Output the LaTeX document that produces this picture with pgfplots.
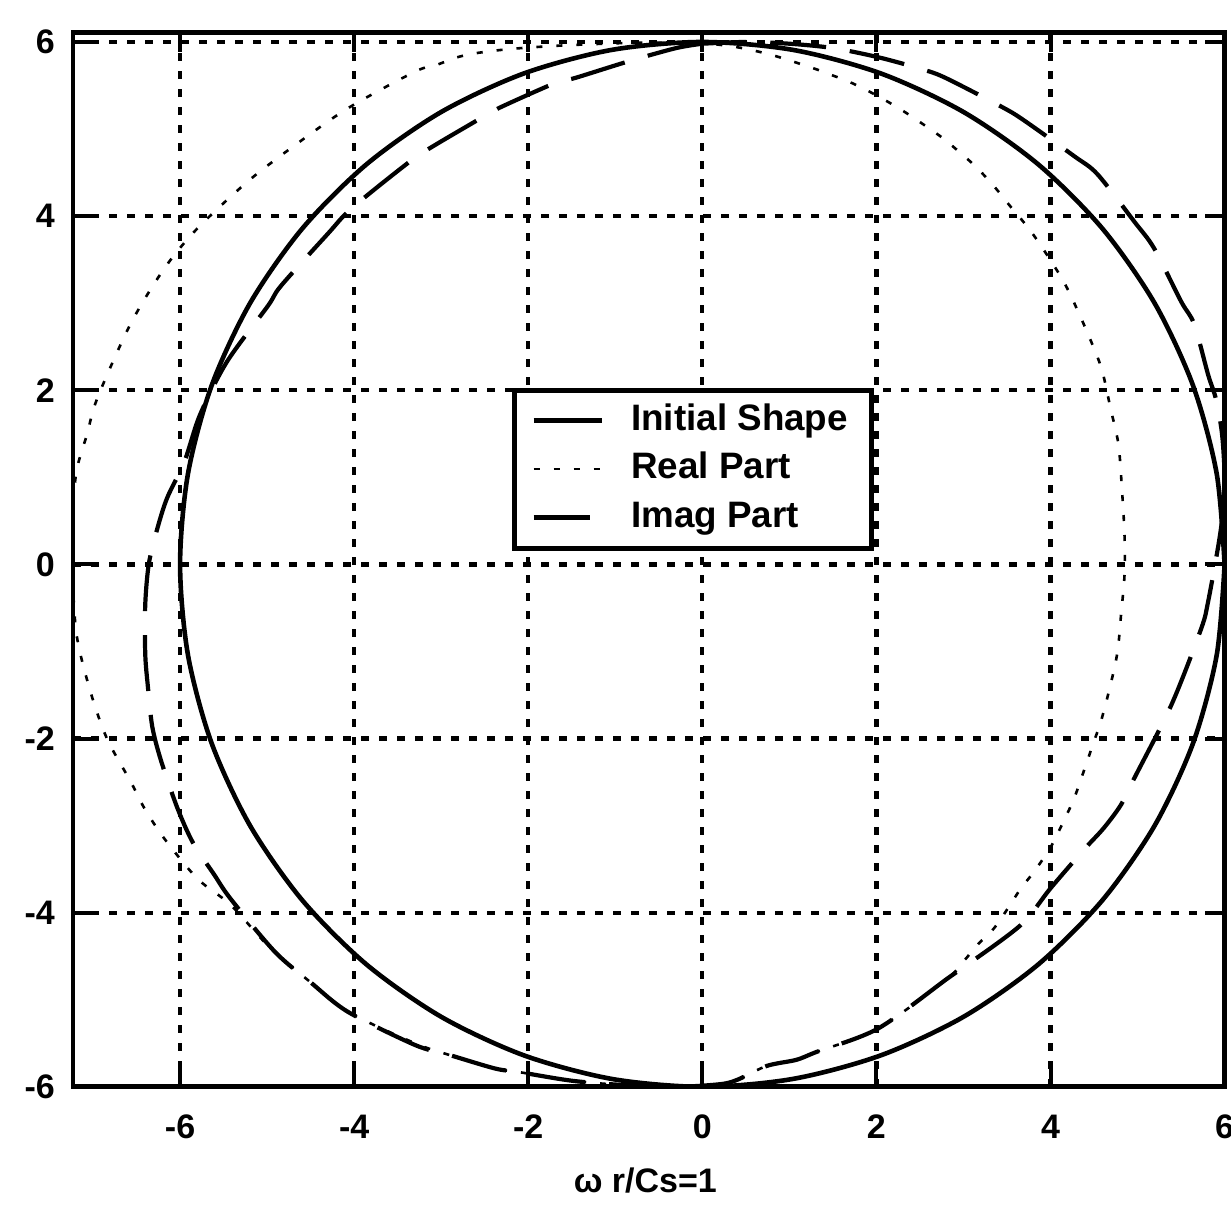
\documentclass[border=0pt]{standalone}
\usepackage{fontspec}
\setmainfont{Liberation Sans}
\usepackage{pgfplots}
\pgfplotsset{compat=1.18}

\begin{document}
\begin{tikzpicture}
\begin{axis}[
  scale only axis,
  width=287.9pt, height=263.6pt,
  xmin=-7.23, xmax=6, ymin=-6, ymax=6.11,
  xtick={-6,-4,...,6}, ytick={-6,-4,...,6},
  tick align=inside, major tick length=5pt,
  tick style={black, line width=1pt},
  axis line style={line width=1.2pt},
  grid=major,
  major grid style={black, line width=1.05pt, dash pattern=on 2pt off 2.5pt},
  /pgf/number format/assume math mode=true,
  ticklabel style={font=\fontsize{8.5}{10}\selectfont\bfseries},
  xticklabel style={yshift=-3.5pt},
  yticklabel style={xshift=-1pt},
  xlabel={ω r/Cs=1},
  xlabel style={at={(axis description cs:0.497,0)}, anchor=center, yshift=-23.5pt,
    font=\fontsize{8.5}{10}\selectfont\bfseries},
  legend style={at={(0.381,0.663)}, anchor=north west,
    draw=black, line width=1.2pt,
    inner xsep=4.3pt, inner ysep=1.6pt, row sep=0pt,
    font=\fontsize{9.2}{11}\selectfont\bfseries,
    nodes={inner sep=1.5pt, text height=7pt, text depth=2.1pt},
    /tikz/every odd column/.append style={column sep=5.3pt}},
  legend cell align=left,
  legend image code/.code={\draw[#1] (0pt,0pt) -- (17pt,0pt);},
]

% initial shape: circle of radius 6
\addplot[black, line width=1.15pt, smooth] coordinates {
 (6.000,0.000) (5.909,1.042) (5.638,2.052) (5.196,3.000) (4.596,3.857)
 (3.857,4.596) (3.000,5.196) (2.052,5.638) (1.042,5.909) (0.000,6.000)
 (-1.042,5.909) (-2.052,5.638) (-3.000,5.196) (-3.857,4.596) (-4.596,3.857)
 (-5.196,3.000) (-5.638,2.052) (-5.909,1.042) (-6.000,0.000)
 (-5.909,-1.042) (-5.638,-2.052) (-5.196,-3.000) (-4.596,-3.857)
 (-3.857,-4.596) (-3.000,-5.196) (-2.052,-5.638) (-1.042,-5.909) (0.000,-6.000)
 (1.042,-5.909) (2.052,-5.638) (3.000,-5.196) (3.857,-4.596) (4.596,-3.857)
 (5.196,-3.000) (5.638,-2.052) (5.909,-1.042) (6.000,0.000)
};
\addlegendentry{Initial Shape\hspace{2pt}}

% real part of the deformed shape
\addplot[black, line width=0.65pt, dash pattern=on 1.5pt off 3.5pt, smooth] coordinates {
 (0.00,5.99) (-0.80,5.99) (-1.60,5.96) (-2.20,5.92) (-2.61,5.87) (-2.83,5.82)
 (-3.07,5.73) (-3.30,5.66) (-4.07,5.24) (-4.70,4.80) (-5.22,4.40) (-5.80,3.86)
 (-6.18,3.40) (-6.57,2.76) (-6.95,1.91) (-7.07,1.49) (-7.19,1.07) (-7.24,0.50)
 (-7.24,0.00) (-7.19,-0.80) (-7.03,-1.46) (-6.84,-2.00) (-6.57,-2.49) (-6.41,-2.80)
 (-6.18,-3.15) (-5.80,-3.61) (-5.42,-3.91) (-4.96,-4.41) (-4.50,-4.80) (-4.07,-5.14)
 (-3.30,-5.50) (-2.92,-5.63) (-2.38,-5.79) (-2.11,-5.83) (-1.50,-5.93) (-0.90,-5.98)
 (-0.30,-6.00) (0.20,-5.97) (0.40,-5.92) (0.74,-5.76) (1.08,-5.69) (1.31,-5.60)
 (2.02,-5.33) (2.81,-4.76) (3.00,-4.56) (3.16,-4.37) (3.35,-4.18) (3.51,-3.95)
 (3.66,-3.72) (3.81,-3.53) (4.00,-3.25) (4.15,-2.95) (4.27,-2.69) (4.38,-2.38)
 (4.50,-2.03) (4.58,-1.80) (4.69,-1.38) (4.77,-1.00) (4.81,-0.58) (4.85,-0.12)
 (4.85,0.34) (4.82,0.87) (4.78,1.38) (4.69,1.79) (4.60,2.20) (4.52,2.43)
 (4.35,2.83) (4.15,3.25) (3.87,3.69) (3.70,3.92) (3.54,4.11) (3.37,4.32)
 (3.16,4.55) (2.96,4.73) (2.73,4.92) (2.35,5.18) (2.12,5.32) (1.90,5.44)
 (1.67,5.55) (1.43,5.64) (1.27,5.70) (0.80,5.85) (0.40,5.94) (0.00,5.99)
};
\addlegendentry{Real Part}

% imaginary part of the deformed shape
\addplot[black, line width=1.05pt, dash pattern=on 14pt off 6pt, smooth] coordinates {
 (0.00,5.98) (-0.30,5.93) (-0.84,5.78) (-1.45,5.59) (-1.71,5.52) (-2.34,5.24)
 (-2.57,5.11) (-3.18,4.75) (-3.46,4.55) (-4.04,4.08) (-4.30,3.80) (-4.84,3.20)
 (-4.99,2.97) (-5.46,2.33) (-5.77,1.72) (-5.95,1.18) (-6.15,0.76) (-6.27,0.38)
 (-6.36,0.00) (-6.40,-0.46) (-6.40,-1.03) (-6.37,-1.40) (-6.32,-1.86) (-6.22,-2.25)
 (-6.03,-2.80) (-5.85,-3.20) (-5.61,-3.56) (-5.42,-3.84) (-4.91,-4.45) (-4.50,-4.80)
 (-4.07,-5.14) (-3.30,-5.52) (-2.92,-5.63) (-2.38,-5.79) (-2.11,-5.83) (-1.50,-5.93)
 (-0.90,-5.98) (-0.30,-6.00) (0.20,-5.97) (0.40,-5.92) (0.74,-5.76) (1.08,-5.69)
 (1.31,-5.60) (2.02,-5.33) (2.81,-4.76) (3.04,-4.60) (3.66,-4.14) (4.00,-3.72)
 (4.38,-3.28) (4.61,-3.03) (4.81,-2.76) (4.96,-2.46) (5.39,-1.61) (5.73,-0.74)
 (5.81,-0.43) (5.93,0.23) (5.98,0.60) (6.00,1.00) (5.97,1.50) (5.90,1.90)
 (5.81,2.18) (5.65,2.76) (5.50,3.02) (5.19,3.63) (4.96,3.94) (4.54,4.48)
 (4.27,4.69) (3.68,5.11) (3.43,5.26) (2.83,5.57) (2.58,5.67) (2.04,5.82)
 (1.50,5.93) (1.00,5.98) (0.50,6.00) (0.00,5.98)
};
\addlegendentry{Imag Part}

\end{axis}
\pgfresetboundingbox
\path ([xshift=-18.25pt,yshift=-29.75pt]current axis.south west)
  rectangle ([xshift=1.6pt,yshift=8.1pt]current axis.north east);
\end{tikzpicture}
\end{document}
